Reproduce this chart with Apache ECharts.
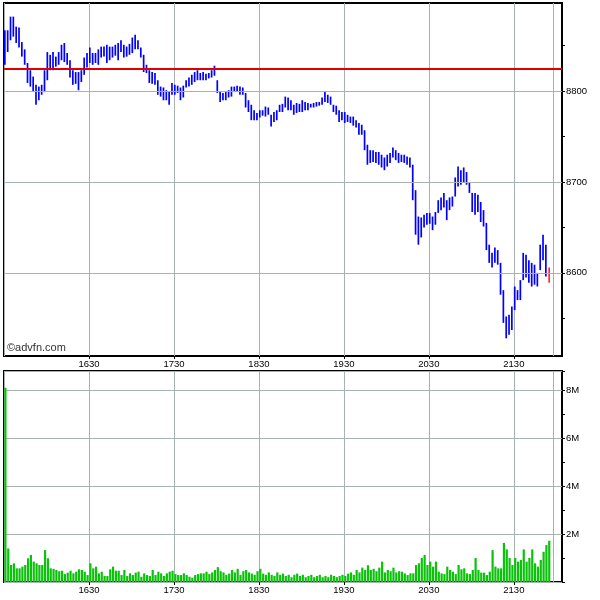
<!DOCTYPE html>
<html><head><meta charset="utf-8">
<script src="https://cdn.jsdelivr.net/npm/echarts@6/dist/echarts.min.js"></script>
<style>html,body{margin:0;padding:0;background:#fff}#c{width:600px;height:600px}</style>
</head><body><div id="c"></div>
<script>
// Time axis: minutes after 15:30; each data bin covers 2 minutes
const binMinutes = 2;
const timeTickMinutes = [60, 120, 180, 240, 300, 360];
const timeLabels = ['1630', '1730', '1830', '1930', '2030', '2130'];
const sessionMarkMinute = 388;
const prevClose = 8825;
const priceLabelTicks = [8600, 8700, 8800];

const priceHigh = [
8867,8867,8882,8882,8871,8870,8854,8846,8831,8823,
8816,8807,8805,8807,8823,8843,8840,8843,8838,8843,
8851,8853,8842,8834,8823,8821,8821,8823,8837,8842,
8848,8842,8842,8846,8849,8849,8851,8849,8849,8851,
8853,8856,8851,8849,8852,8859,8862,8856,8848,8840,
8829,8823,8821,8820,8812,8805,8804,8801,8799,8809,
8807,8806,8804,8806,8812,8815,8818,8821,8823,8820,
8821,8819,8820,8823,8828,8812,8799,8798,8799,8801,
8805,8805,8806,8805,8804,8798,8790,8785,8779,8776,
8779,8779,8783,8782,8774,8777,8779,8785,8786,8794,
8793,8790,8785,8787,8786,8790,8788,8787,8786,8787,
8788,8788,8793,8799,8796,8794,8785,8784,8779,8777,
8777,8774,8772,8772,8768,8765,8763,8757,8741,8735,
8735,8733,8733,8730,8727,8730,8732,8738,8735,8732,
8730,8730,8728,8727,8719,8691,8662,8661,8664,8666,
8666,8662,8667,8680,8683,8688,8680,8683,8684,8705,
8717,8713,8716,8711,8699,8688,8688,8686,8678,8669,
8655,8631,8622,8628,8625,8611,8581,8552,8554,8563,
8585,8581,8592,8622,8620,8614,8611,8609,8600,8631,
8642,8631,8606];

const priceLow = [
8829,8843,8856,8860,8853,8848,8838,8829,8809,8805,
8799,8785,8790,8796,8799,8812,8823,8823,8827,8829,
8834,8832,8829,8815,8807,8808,8801,8810,8818,8826,
8831,8829,8831,8829,8837,8838,8831,8834,8837,8839,
8834,8843,8837,8838,8840,8842,8846,8846,8837,8821,
8820,8809,8808,8807,8796,8794,8790,8790,8785,8796,
8796,8798,8790,8793,8804,8805,8807,8810,8812,8812,
8812,8812,8814,8815,8817,8798,8788,8790,8790,8793,
8794,8799,8799,8796,8796,8782,8777,8768,8768,8768,
8771,8773,8772,8774,8761,8766,8768,8777,8777,8782,
8779,8779,8774,8776,8777,8777,8779,8779,8782,8782,
8783,8784,8785,8788,8787,8785,8777,8774,8766,8768,
8765,8766,8765,8762,8760,8752,8752,8735,8719,8721,
8722,8721,8719,8716,8713,8717,8721,8727,8724,8721,
8722,8721,8719,8716,8680,8642,8631,8639,8650,8653,
8654,8647,8653,8666,8669,8672,8658,8669,8673,8684,
8695,8697,8700,8697,8688,8667,8664,8667,8656,8651,
8625,8611,8606,8611,8609,8576,8545,8528,8532,8537,
8559,8570,8570,8592,8595,8589,8585,8587,8585,8603,
8614,8596,8589];

// volume in millions of shares per bin
const volumeM = [
8.1,1.4,0.71,0.78,0.57,0.57,0.64,0.71,0.99,1.13,
0.85,0.78,0.71,0.71,1.33,0.99,0.57,0.55,0.50,0.45,
0.47,0.33,0.39,0.47,0.36,0.43,0.53,0.50,0.43,0.29,
0.78,0.57,0.64,0.36,0.43,0.25,0.25,0.53,0.64,0.47,
0.47,0.29,0.50,0.25,0.36,0.29,0.39,0.43,0.22,0.36,
0.29,0.25,0.50,0.29,0.43,0.36,0.25,0.36,0.43,0.47,
0.33,0.29,0.29,0.36,0.29,0.22,0.18,0.29,0.33,0.36,
0.36,0.43,0.33,0.40,0.50,0.62,0.45,0.40,0.30,0.35,
0.50,0.40,0.55,0.30,0.45,0.50,0.40,0.35,0.30,0.45,
0.55,0.35,0.30,0.40,0.30,0.25,0.40,0.30,0.35,0.25,
0.30,0.20,0.30,0.35,0.25,0.30,0.20,0.25,0.30,0.20,
0.25,0.30,0.20,0.25,0.20,0.30,0.25,0.20,0.25,0.30,
0.25,0.35,0.40,0.30,0.50,0.40,0.60,0.50,0.70,0.50,
0.55,0.45,0.60,0.85,0.40,0.50,0.45,0.60,0.40,0.45,
0.43,0.36,0.29,0.36,0.36,0.71,0.78,1.00,1.13,0.71,
0.85,0.64,0.85,0.43,0.36,0.33,0.64,0.50,0.43,0.33,
0.71,0.53,0.57,0.36,0.33,0.50,1.00,0.50,0.39,0.39,
0.29,0.43,1.33,0.64,0.57,0.57,1.63,1.36,1.00,0.71,
1.00,0.85,0.92,1.36,0.85,1.00,1.36,0.78,0.64,0.92,
1.26,1.54,1.72];

const priceData = priceHigh.map((h, i) => [i * binMinutes, h, priceLow[i]]);
const volumeData = volumeM.map((v, i) => [i * binMinutes + binMinutes / 2, v * 1e6]);

const GRID_C = '#a8b2b2';
const FONT = 'Liberation Sans, Arial, sans-serif';
const xMin = 0, xMax = 394;

function timeFmt(v) {
  const k = timeTickMinutes.indexOf(v);
  return k >= 0 ? timeLabels[k] : '';
}

function xAxisCfg(gi) {
  return {
    type: 'value', gridIndex: gi, min: xMin, max: xMax, interval: 60,
    axisLine: { show: false, onZero: false },
    axisTick: { show: true, length: 3, lineStyle: { color: '#000' } },
    axisLabel: { formatter: timeFmt, color: '#000', fontSize: 9.5, fontFamily: FONT, margin: 3,
                 showMinLabel: false, showMaxLabel: false },
    splitLine: { show: true, lineStyle: { color: GRID_C, width: 1 } }
  };
}

const chart = echarts.init(document.getElementById('c'), null, { renderer: 'canvas' });
chart.setOption({
  animation: false,
  backgroundColor: '#fff',
  grid: [
    { left: 4, right: 38, top: 3, height: 353, show: true, borderColor: '#000', borderWidth: 2, backgroundColor: 'transparent' },
    { left: 4, right: 38, top: 371, height: 211, show: true, borderColor: '#000', borderWidth: 2, backgroundColor: 'transparent' }
  ],
  xAxis: [xAxisCfg(0), xAxisCfg(1)],
  yAxis: [
    {
      type: 'value', gridIndex: 0, position: 'right', min: 8508.5, max: 8897, splitNumber: 8,
      axisLine: { show: true, onZero: false, lineStyle: { color: '#000', width: 1 } },
      axisTick: { show: true, length: 3, lineStyle: { color: '#000' } },
      axisLabel: { color: '#000', fontSize: 9.5, fontFamily: FONT, margin: 4,
                   showMinLabel: false, showMaxLabel: false,
                   formatter: v => (priceLabelTicks.indexOf(v) >= 0 ? String(v) : '') },
      splitLine: { show: false }
    },
    {
      type: 'value', gridIndex: 1, position: 'right', min: 0, max: 8.8e6, interval: 2e6,
      axisLine: { show: true, onZero: false, lineStyle: { color: '#000', width: 1 } },
      axisTick: { show: true, length: 3, lineStyle: { color: '#000' } },
      minorTick: { show: true, splitNumber: 2, length: 3, lineStyle: { color: '#000' } },
      axisLabel: { color: '#000', fontSize: 9.5, fontFamily: FONT, margin: 4,
                   formatter: v => (v > 0 && v % 2e6 === 0) ? (v / 1e6) + 'M' : '' },
      splitLine: { show: true, lineStyle: { color: GRID_C, width: 1 } }
    }
  ],
  graphic: [
    { type: 'text', left: 7, top: 342, z: 10,
      style: { text: '\u00A9advfn.com', fontSize: 11, fontFamily: FONT, fill: '#333' } }
  ],
  series: [
    {
      type: 'line', xAxisIndex: 0, yAxisIndex: 0, data: [], z: 1, silent: true,
      markLine: {
        silent: true, symbol: 'none', animation: false, label: { show: false },
        lineStyle: { color: GRID_C, type: 'solid', width: 1 },
        data: priceLabelTicks.map(v => ({ yAxis: v })).concat([{ xAxis: sessionMarkMinute }])
      }
    },
    {
      type: 'line', xAxisIndex: 1, yAxisIndex: 1, data: [], z: 1, silent: true,
      markLine: {
        silent: true, symbol: 'none', animation: false, label: { show: false },
        lineStyle: { color: GRID_C, type: 'solid', width: 1 },
        data: [{ xAxis: sessionMarkMinute }]
      }
    },
    {
      type: 'custom', xAxisIndex: 0, yAxisIndex: 0, z: 3, data: priceData, silent: true,
      renderItem: function (params, api) {
        const t = api.value(0), hi = api.value(1), lo = api.value(2);
        const p1 = api.coord([t, hi]);
        const p2 = api.coord([t + binMinutes, lo]);
        const w = Math.max(1, (p2[0] - p1[0]) * 0.6);
        const last = params.dataIndex === priceHigh.length - 1;
        return {
          type: 'rect',
          shape: { x: p1[0] + (last ? 0.6 : 0), y: p1[1], width: last ? 1.4 : w, height: Math.max(1, p2[1] - p1[1]) },
          style: { fill: last ? '#ff0000' : '#0000ff' }
        };
      }
    },
    {
      type: 'line', xAxisIndex: 0, yAxisIndex: 0, data: [], z: 4, silent: true,
      markLine: {
        silent: true, symbol: 'none', animation: false, label: { show: false },
        lineStyle: { color: '#e00000', type: 'solid', width: 2 },
        data: [{ yAxis: prevClose }]
      }
    },
    {
      type: 'bar', xAxisIndex: 1, yAxisIndex: 1, z: 3, data: volumeData, barWidth: 2.2, silent: true,
      itemStyle: { color: '#0bc20b' }
    }
  ]
});
</script>
</body></html>
